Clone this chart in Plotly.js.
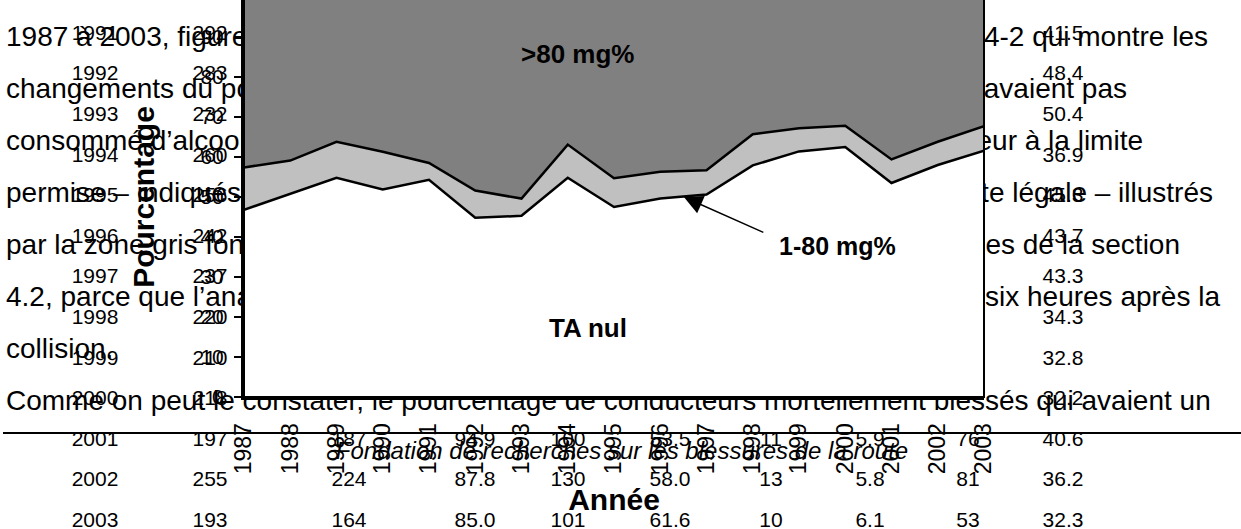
<!DOCTYPE html>
<html><head><meta charset="utf-8">
<script src="https://cdn.plot.ly/plotly-3.0.1.min.js"></script>
<style>
html,body{margin:0;padding:0;width:1241px;height:529px;overflow:hidden;background:#fff;}
#doc{position:absolute;left:0;top:0;width:1241px;height:529px;z-index:0;font-family:"Liberation Sans",Arial,sans-serif;color:#000;}
#doc span{position:absolute;white-space:nowrap;line-height:1;}
#rule{position:absolute;left:3px;top:432px;width:1238px;height:2px;background:#000;}
#chart{position:absolute;left:0;top:-3px;width:1241px;height:532px;z-index:1;}
</style></head><body>
<div id="doc"><div id="rule"></div></div>
<div id="chart"></div>
<script>
// ---------- chart data ----------
const years = [1987,1988,1989,1990,1991,1992,1993,1994,1995,1996,1997,1998,1999,2000,2001,2002,2003];
const taNul     = [46.8,50.8,54.8,51.9,54.3,44.8,45.3,54.8,47.5,49.6,50.6,57.9,61.4,62.5,53.5,58.0,61.6];
const bac1to80  = [10.6,8.3,9.0,9.4,4.2,6.8,4.3,8.3,7.2,6.7,6.1,7.8,5.8,5.3,5.9,5.8,6.1];
const bacOver80 = [42.6,40.9,36.2,38.7,41.5,48.4,50.4,36.9,45.3,43.7,43.3,34.3,32.8,32.2,40.6,36.2,32.3];
const yTickVals = [0,10,20,30,40,50,60,70,80,90,100];
const xTickText = years.map(String);
const seriesNames = ['TA nul','1-80 mg%','>80 mg%'];

// ---------- document text (page behind the chart) ----------
const paraLeft = [
  '1987 à 2003, figure dans le',
  'changements du pourcentage',
  'consommé d’alcool',
  'permise – indiqués',
  'par la zone gris foncé',
  '4.2, parce que l’analyse',
  'collision.',
  'Comme on peut le constater, le pourcentage de conducteurs mortellement blessés qui avaient un'
];
const paraRight = [
  'la figure 4-2 qui montre les',
  'conducteurs qui n’avaient pas',
  'inférieur à la limite',
  'limite légale – illustrés',
  'les analyses de la section',
  'dans les six heures après la',
  '',
  ''
];
const tableYears   = ['1991','1992','1993','1994','1995','1996','1997','1998','1999','2000','2001','2002','2003'];
const tableTotal   = ['292','283','232','260','256','242','237','220','210','218','197','255','193'];
const tableTested  = [null,null,null,null,null,null,null,null,null,null,'187','224','164'];
const tablePctTest = [null,null,null,null,null,null,null,null,null,null,'94.9','87.8','85.0'];
const tableZero    = [null,null,null,null,null,null,null,null,null,null,'100','130','101'];
const tablePctZero = [null,null,null,null,null,null,null,null,null,null,'53.5','58.0','61.6'];
const tableLow     = [null,null,null,null,null,null,null,null,null,null,'11','13','10'];
const tablePctLow  = [null,null,null,null,null,null,null,null,null,null,'5.9','5.8','6.1'];
const tableHigh    = [null,null,null,null,null,null,null,null,null,null,'76','81','53'];
const tablePctHigh = ['41.5','48.4','50.4','36.9','45.3','43.7','43.3','34.3','32.8','32.2','40.6','36.2','32.3'];
const footerText = 'Fondation de recherches sur les blessures de la route';

// ---------- place document text ----------
const doc = document.getElementById('doc');
function put(str, size, cy, opt){
  const s = document.createElement('span');
  s.textContent = str;
  s.style.fontSize = size + 'px';
  s.style.top = (cy - 0.4885*size) + 'px';
  if (opt.left !== undefined) s.style.left = opt.left + 'px';
  if (opt.right !== undefined) s.style.right = (1241 - opt.right) + 'px';
  if (opt.cx !== undefined) { s.style.left = opt.cx + 'px'; s.style.transform = 'translateX(-50%)'; }
  if (opt.italic) s.style.fontStyle = 'italic';
  doc.appendChild(s);
}
const paraY = [37, 89, 141, 193, 245, 297, 349, 401];
const paraRightEnd = [1208, 1127, 1143, 1213, 1180, 1220, 0, 0];
paraLeft.forEach((t,i)=>put(t, 28, paraY[i], {left:6}));
paraRight.forEach((t,i)=>{ if(t) put(t, 28, paraY[i], {right:paraRightEnd[i]}); });

const colX = [95, 210, 349, 475, 568, 670, 771, 870, 968, 1063];
const cols = [tableYears, tableTotal, tableTested, tablePctTest, tableZero, tablePctZero, tableLow, tablePctLow, tableHigh, tablePctHigh];
tableYears.forEach((_, r)=>{
  const cy = 32 + 40.6*r;
  cols.forEach((c, k)=>{ if (c[r]) put(c[r], 21, cy, {cx:colX[k]}); });
});
put(footerText, 24, 451, {cx:622, italic:true});

// ---------- chart ----------
const fills = ['#ffffff','#c0c0c0','#808080'];
const series = [taNul, bac1to80, bacOver80];
const traces = series.map((v,i)=>({
  x: years, y: v, name: seriesNames[i], type:'scatter', mode:'lines',
  stackgroup:'pct', fillcolor: fills[i],
  line:{color:'#000', width:2.5, shape:'linear'}
}));

const FONT = 'Liberation Sans, Arial, sans-serif';
const layout = {
  width:1241, height:532,
  margin:{l:244, r:257, t:0, b:132, pad:0},
  paper_bgcolor:'rgba(0,0,0,0)', plot_bgcolor:'#ffffff',
  showlegend:false,
  font:{family:FONT, color:'#000'},
  xaxis:{
    range:[1987,2003], tickmode:'array', tickvals:years, ticktext:xTickText,
    tickangle:-90, tickfont:{size:23, family:FONT, color:'#000'},
    ticks:'', ticklabelstandoff:14,
    showline:true, linewidth:3, linecolor:'#000', showgrid:false, zeroline:false,
    title:{text:'<b>Année</b>', font:{size:30, family:FONT, color:'#000'}, standoff:16}
  },
  yaxis:{
    range:[0,100], tickmode:'array', tickvals:yTickVals,
    tickfont:{size:21, family:FONT, color:'#000'},
    ticks:'outside', ticklen:7, tickwidth:2, tickcolor:'#000', ticklabelstandoff:6,
    showline:true, linewidth:3, linecolor:'#000', showgrid:false, zeroline:false,
    title:{text:'<b>Pourcentage</b>', font:{size:30, family:FONT, color:'#000'}, standoff:37}
  },
  shapes:[{type:'rect', xref:'paper', yref:'paper', x0:0, x1:1, y0:0, y1:1, line:{color:'#000', width:2}, fillcolor:'rgba(0,0,0,0)'}],
  annotations:[
    {x:1994.22, y:85.75, xref:'x', yref:'y', text:'<b>>80 mg%</b>', showarrow:false, font:{size:26, family:FONT, color:'#000'}},
    {x:1994.44, y:17.25, xref:'x', yref:'y', text:'<b>TA nul</b>', showarrow:false, font:{size:26, family:FONT, color:'#000'}},
    {x:1999.84, y:37.75, xref:'x', yref:'y', text:'<b>1-80 mg%</b>', showarrow:false, font:{size:25, family:FONT, color:'#000'}},
    {x:1996.51, y:50.0, xref:'x', yref:'y', text:'', showarrow:true, ax:81, ay:36, axref:'pixel', ayref:'pixel',
     arrowhead:2, arrowsize:2.5, arrowwidth:1.5, arrowcolor:'#000'}
  ]
};
Plotly.newPlot('chart', traces, layout, {staticPlot:true, displayModeBar:false});
</script>
</body></html>
